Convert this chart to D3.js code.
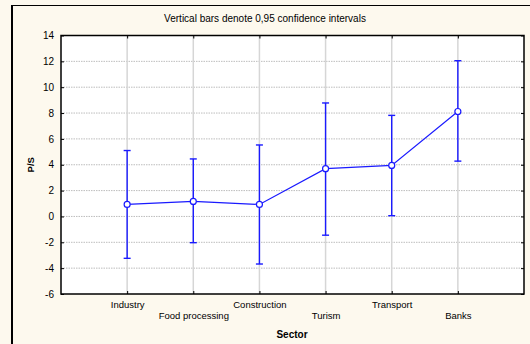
<!DOCTYPE html>
<html><head><meta charset="utf-8">
<script src="https://cdn.jsdelivr.net/npm/d3@7"></script>
<style>body{margin:0;background:#fdf9ee;}svg{display:block;font-family:"Liberation Sans",Arial,sans-serif;}</style>
</head><body><svg id="c" width="530" height="344"></svg>
<script>
const categories = ["Industry","Food processing","Construction","Turism","Transport","Banks"];
const means = [0.93, 1.16, 0.93, 3.7, 3.95, 8.12];
const upper = [5.1, 4.45, 5.53, 8.78, 7.82, 12.05];
const lower = [-3.24, -2.03, -3.68, -1.45, 0.06, 4.28];
const yTicks = [-6,-4,-2,0,2,4,6,8,10,12,14];

const svg = d3.select("#c");
svg.append("rect").attr("width",530).attr("height",344).attr("fill","#fdf9ee");
// outer frame (left & top)
svg.append("line").attr("x1",12).attr("x2",12).attr("y1",5).attr("y2",344).attr("stroke","#000").attr("stroke-width",2);
svg.append("line").attr("x1",11).attr("x2",530).attr("y1",5.5).attr("y2",5.5).attr("stroke","#000").attr("stroke-width",1.2);

const L=61, R=524, T=35.5, B=294;
const x = d3.scalePoint().domain(categories).range([L,R]).padding(1);
const y = d3.scaleLinear().domain([-6,14]).range([B,T]);

svg.append("rect").attr("x",L).attr("y",T).attr("width",R-L).attr("height",B-T).attr("fill","#fff");

// grid
svg.append("g").selectAll("line").data(yTicks.slice(1,-1)).join("line")
  .attr("x1",L).attr("x2",R).attr("y1",d=>y(d)).attr("y2",d=>y(d))
  .attr("stroke","#bdbdbd").attr("stroke-width",1).attr("stroke-dasharray","1.5,1");
svg.append("g").selectAll("line").data(categories).join("line")
  .attr("x1",d=>x(d)).attr("x2",d=>x(d)).attr("y1",T).attr("y2",B)
  .attr("stroke","#d6d6d6").attr("stroke-width",1.5);

// axes
const ax = g=>g.call(s=>s.select(".domain").remove()).call(s=>s.selectAll("text").attr("fill","#000"));
svg.append("g").attr("transform",`translate(${L},0)`)
  .call(d3.axisLeft(y).tickValues(yTicks).tickSize(-3).tickPadding(7).tickFormat(d=>String(d)))
  .call(ax).call(g=>g.selectAll("text").style("font-size","10px"))
  .call(g=>g.selectAll("line").attr("stroke","#000"));
svg.append("g").attr("transform",`translate(${R},0)`)
  .call(d3.axisRight(y).tickValues(yTicks).tickSize(-3).tickFormat(""))
  .call(ax).call(g=>g.selectAll("line").attr("stroke","#000"));
svg.append("g").attr("transform",`translate(0,${T})`)
  .call(d3.axisTop(x).tickSize(-3).tickFormat(""))
  .call(ax).call(g=>g.selectAll("line").attr("stroke","#000"));
const xb = svg.append("g").attr("transform",`translate(0,${B})`)
  .call(d3.axisBottom(x).tickSize(-3).tickPadding(0))
  .call(ax).call(g=>g.selectAll("line").attr("stroke","#000"));
xb.selectAll("text").style("font-size","9.5px").attr("dy",null)
  .attr("y",(d,i)=> i%2===0 ? 14 : 24.5);

// box
svg.append("rect").attr("x",L).attr("y",T).attr("width",R-L).attr("height",B-T)
  .attr("fill","none").attr("stroke","#000").attr("stroke-width",1.5);

// error bars
const blue="#1a1aff";
const eb = svg.append("g").attr("stroke",blue).attr("stroke-width",1.4);
eb.selectAll(".v").data(categories).join("line")
  .attr("x1",d=>x(d)).attr("x2",d=>x(d)).attr("y1",(d,i)=>y(upper[i])).attr("y2",(d,i)=>y(lower[i]));
eb.selectAll(".u").data(categories).join("line")
  .attr("x1",d=>x(d)-3.5).attr("x2",d=>x(d)+3.5).attr("y1",(d,i)=>y(upper[i])).attr("y2",(d,i)=>y(upper[i]));
eb.selectAll(".l").data(categories).join("line")
  .attr("x1",d=>x(d)-3.5).attr("x2",d=>x(d)+3.5).attr("y1",(d,i)=>y(lower[i])).attr("y2",(d,i)=>y(lower[i]));

// mean line
svg.append("path").datum(categories)
  .attr("d",d3.line().x(d=>x(d)).y((d,i)=>y(means[i])))
  .attr("fill","none").attr("stroke",blue).attr("stroke-width",1.2);
svg.append("g").selectAll("circle").data(categories).join("circle")
  .attr("cx",d=>x(d)).attr("cy",(d,i)=>y(means[i])).attr("r",3)
  .attr("fill","#fff").attr("stroke",blue).attr("stroke-width",1.2);

// titles
svg.append("text").attr("x",265).attr("y",22).attr("text-anchor","middle")
  .style("font-size","10px").text("Vertical bars denote 0,95 confidence intervals");
svg.append("text").attr("x",292).attr("y",338).attr("text-anchor","middle")
  .style("font-size","10px").style("font-weight","bold").text("Sector");
svg.append("text").attr("transform",`translate(34,${y(4)}) rotate(-90)`).attr("text-anchor","middle")
  .style("font-size","9.5px").style("font-weight","bold").text("P/S");
</script></body></html>
